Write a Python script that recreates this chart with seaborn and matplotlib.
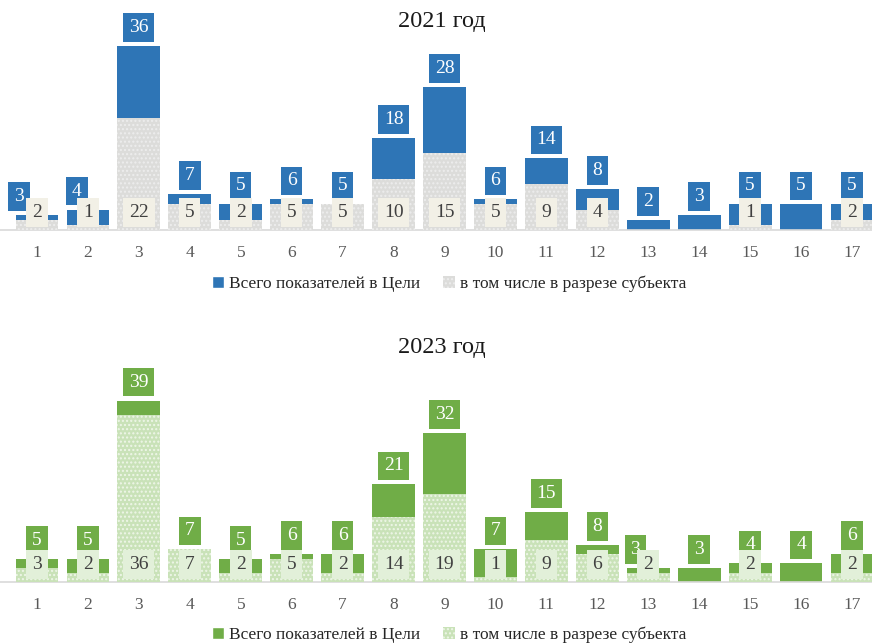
import matplotlib
matplotlib.use("Agg")
import matplotlib.pyplot as plt
import seaborn as sns
import pandas as pd
from matplotlib.patches import Patch

categories = [str(i) for i in range(1, 18)]

total_2021 = [3, 4, 36, 7, 5, 6, 5, 18, 28, 6, 14, 8, 2, 3, 5, 5, 5]
subset_2021 = [2, 1, 22, 5, 2, 5, 5, 10, 15, 5, 9, 4, 0, 0, 1, 0, 2]
total_2023 = [5, 5, 39, 7, 5, 6, 6, 21, 32, 7, 15, 8, 3, 3, 4, 4, 6]
subset_2023 = [3, 2, 36, 7, 2, 5, 2, 14, 19, 1, 9, 6, 2, 0, 2, 0, 2]

legend_labels = ["Всего показателей в Цели", "в том числе в разрезе субъекта"]

sns.set_theme(style="white")
plt.rcParams["font.family"] = ["Liberation Serif", "DejaVu Serif"]

W, H = 872, 644
fig = plt.figure(figsize=(W / 100, H / 100), dpi=100)

# x limits so category centres land at the reference pixel positions
step = (852 - 37) / 16
xmin = -37 / step
xmax = xmin + W / step

panels = [
    dict(title="2021 год", total=total_2021, subset=subset_2021,
         base=230, scale=5.11, title_y=22, legend_y=284,
         main="#2E75B6", light="#DCDCDA", dots="#EDEDED",
         box="#F2F0E6", shift={0: -18, 1: -11}),
    dict(title="2023 год", total=total_2023, subset=subset_2023,
         base=582, scale=4.65, title_y=347, legend_y=635,
         main="#70AD47", light="#C9E2B8", dots="#EEF6E8",
         box="#E2F0D9", shift={12: -13}),
]

ytop = 42
for p in panels:
    bottom = (H - p["base"]) / H
    height = ytop * p["scale"] / H
    ax = fig.add_axes([0, bottom, 1, height])

    df = pd.DataFrame({"cat": categories, "total": p["total"], "subset": p["subset"]})
    sns.barplot(data=df, x="cat", y="total", color=p["main"], saturation=1,
                width=0.84, ax=ax, linewidth=0, zorder=2)
    n_first = len(ax.patches)
    sns.barplot(data=df, x="cat", y="subset", color=p["light"], saturation=1,
                width=0.84, ax=ax, linewidth=0, zorder=3)
    for patch in ax.patches[n_first:]:
        patch.set_hatch("....")
        patch.set_edgecolor(p["dots"])
        patch.set_linewidth(0)

    ax.set_xlim(xmin, xmax)
    ax.set_ylim(0, ytop)
    ax.set_xlabel("")
    ax.set_ylabel("")
    ax.set_yticks([])
    for s in ["top", "left", "right"]:
        ax.spines[s].set_visible(False)
    ax.spines["bottom"].set_color("#D9D9D9")
    ax.spines["bottom"].set_linewidth(1.2)
    ax.tick_params(axis="x", length=0, pad=11, labelsize=12.5, labelcolor="#595959")

    for i, (t, s) in enumerate(zip(p["total"], p["subset"])):
        ax.annotate(str(t), (i, t), xytext=(p["shift"].get(i, 0), 18.5),
                    textcoords="offset pixels", ha="center", va="center",
                    fontsize=14, color="white", zorder=6,
                    bbox=dict(boxstyle="square,pad=0.3", fc=p["main"], ec="none"))
        if s > 0:
            ax.annotate(str(s), (i, 0), xytext=(0, 17.5),
                        textcoords="offset pixels", ha="center", va="center",
                        fontsize=14, color="#404040", zorder=7,
                        bbox=dict(boxstyle="square,pad=0.3", fc=p["box"], ec="none"))

    fig.text(442 / W, 1 - p["title_y"] / H, p["title"], ha="center", va="center",
             fontsize=17.5, color="#1a1a1a")

    handles = [Patch(facecolor=p["main"]), Patch(facecolor=p["light"], hatch="....",
                                                 edgecolor=p["dots"], linewidth=0)]
    fig.legend(handles, legend_labels, loc="center", ncol=2,
               bbox_to_anchor=(449 / W, 1 - p["legend_y"] / H), frameon=False,
               fontsize=12.5, handlelength=0.7, handleheight=0.7, handletextpad=0.3,
               columnspacing=1.3, labelcolor="#262626")

fig.savefig("out.png", dpi=100)
